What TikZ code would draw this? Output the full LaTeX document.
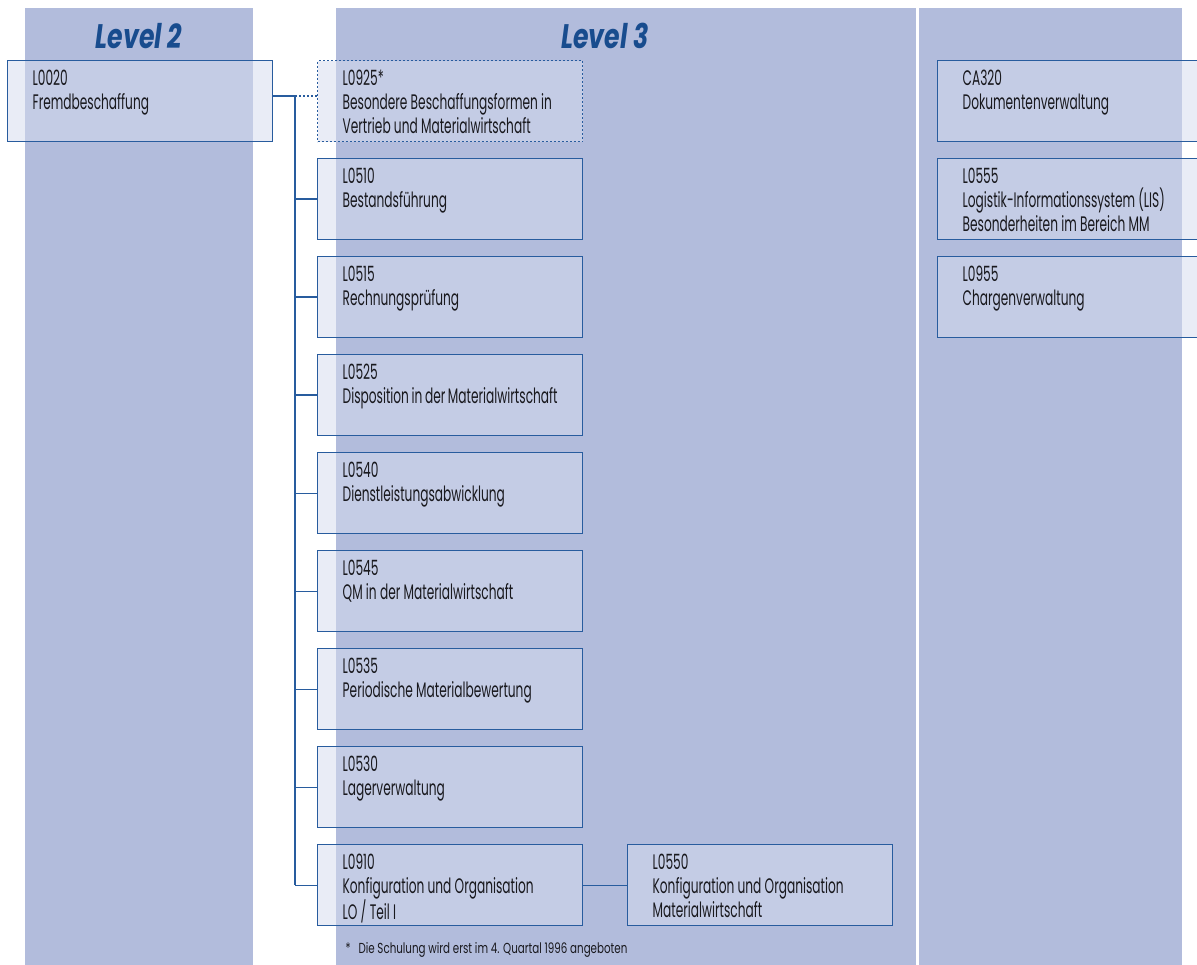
\documentclass[tikz,border=0pt]{standalone}
\usepackage{fontspec}
\setmainfont{Poppins}[FakeStretch=0.58]
\newfontfamily\headfont{Poppins}[FakeStretch=0.74]
\newfontfamily\notefont{Poppins}[FakeStretch=0.71]
\definecolor{colbg}{RGB}{178,188,220}
\definecolor{boxfill}{RGB}{213,219,238}
\definecolor{lineblue}{RGB}{40,92,158}
\definecolor{headblue}{RGB}{24,76,142}
\definecolor{textgray}{RGB}{25,25,30}
\newcommand{\crs}[2]{\parbox[c][63pt][t]{215pt}{#1\\#2}}

\begin{document}
\begin{tikzpicture}[x=1pt,y=-1pt,
  box/.style={draw=lineblue,line width=1.3pt,fill=boxfill,fill opacity=0.53,text opacity=1,
    anchor=north west,inner xsep=25pt,inner ysep=9pt,text=textgray,
    font=\fontsize{21}{24}\selectfont},
  head/.style={text=headblue,font=\fontsize{34}{34}\selectfont\headfont\bfseries\itshape},
  link/.style={draw=lineblue,line width=1.3pt}]
  \useasboundingbox (0,0) rectangle (1197,965);
  % columns
  \fill[colbg] (25,8) rectangle (253,965);
  \fill[colbg] (336,8) rectangle (916,965);
  \fill[colbg] (919,8) rectangle (1182,965);
  \node[head] (lv2) at (139,36) {Level 2};
  \node[head] (lv3) at (605,36) {Level 3};

  \node[box] (lo020) at (7,60) {\crs{L0020}{Fremdbeschaffung}};
  \node[box,dash pattern=on 2pt off 2pt] (lo925) at (317,60)
    {\crs{L0925*}{Besondere Beschaffungsformen in\\Vertrieb und Materialwirtschaft}};
  \foreach \nm/\code/\txt [count=\i from 0] in {
      lo510/L0510/{Bestandsführung},
      lo515/L0515/{Rechnungsprüfung},
      lo525/L0525/{Disposition in der Materialwirtschaft},
      lo540/L0540/{Dienstleistungsabwicklung},
      lo545/L0545/{QM in der Materialwirtschaft},
      lo535/L0535/{Periodische Materialbewertung},
      lo530/L0530/{Lagerverwaltung},
      lo910/L0910/{Konfiguration und Organisation\\LO / Teil I}}
    \node[box] (\nm) at (317,158+98*\i) {\crs{\code}{\txt}};
  \node[box] (lo550) at (627,844) {\crs{L0550}{Konfiguration und Organisation\\Materialwirtschaft}};

  \node[box] (ca320) at (937,60) {\crs{CA320}{Dokumentenverwaltung}};
  \node[box] (lo555) at (937,158) {\crs{L0555}{Logistik-Informationssystem (LIS)\\Besonderheiten im Bereich MM}};
  \node[box] (lo955) at (937,256) {\crs{L0955}{Chargenverwaltung}};

  % tree
  \coordinate (split) at (295,96);
  \draw[link] (lo020.east |- split) -- (split);
  \draw[link,dash pattern=on 2pt off 2pt] (split) -- (lo925.west |- split);
  \draw[link] (split) -- (split |- lo910.west);
  \foreach \nm in {lo510,lo515,lo525,lo540,lo545,lo535,lo530,lo910}
    \draw[link] (split |- \nm.west) -- (\nm.west);
  \draw[link] (lo910.east) -- (lo550.west);

  \node[anchor=base west,text=textgray,font=\fontsize{14.5}{16}\selectfont\notefont] (note) at (342,953)
    {*\hspace{8pt}Die Schulung wird erst im 4. Quartal 1996 angeboten};
\end{tikzpicture}
\end{document}
